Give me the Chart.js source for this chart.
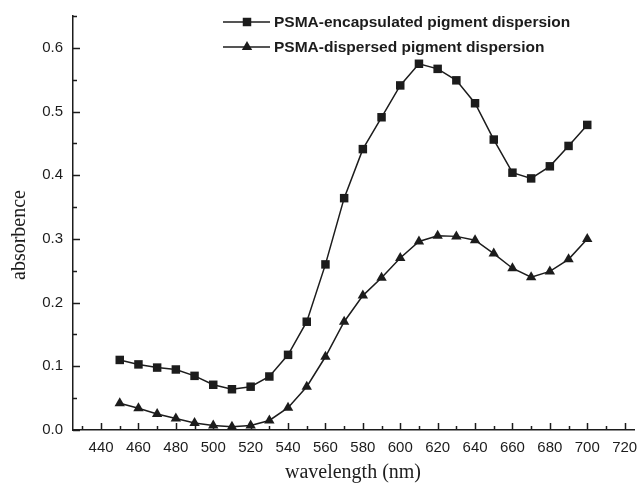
<!DOCTYPE html>
<html>
<head>
<meta charset="utf-8">
<script src="https://cdn.jsdelivr.net/npm/chart.js@4"></script>
<style>
  body { margin: 0; background: #fff; }
  #wrap { width: 640px; height: 487px; }
</style>
</head>
<body>
<div id="wrap"><canvas id="chart" width="640" height="487"></canvas></div>
<script>
// wavelength (nm)
const wavelengths = [450, 460, 470, 480, 490, 500, 510, 520, 530, 540, 550, 560, 570,
                     580, 590, 600, 610, 620, 630, 640, 650, 660, 670, 680, 690, 700];
const encapsulated = [0.110, 0.103, 0.098, 0.095, 0.085, 0.071, 0.064, 0.068, 0.084, 0.118, 0.170, 0.260, 0.364,
                      0.441, 0.491, 0.541, 0.575, 0.567, 0.549, 0.513, 0.456, 0.404, 0.395, 0.414, 0.446, 0.479];
const dispersed = [0.042, 0.034, 0.025, 0.018, 0.011, 0.007, 0.005, 0.007, 0.015, 0.035, 0.068, 0.115, 0.170,
                   0.211, 0.239, 0.270, 0.296, 0.305, 0.304, 0.298, 0.277, 0.254, 0.240, 0.249, 0.268, 0.300];
const seriesNames = ['PSMA-encapsulated pigment dispersion', 'PSMA-dispersed pigment dispersion'];

// tick positions (major ones get labels)
const xTicks = [430, 440, 450, 460, 470, 480, 490, 500, 510, 520, 530, 540, 550, 560, 570, 580,
                590, 600, 610, 620, 630, 640, 650, 660, 670, 680, 690, 700, 710, 720];
const xLabels = [440, 460, 480, 500, 520, 540, 560, 580, 600, 620, 640, 660, 680, 700, 720];
const yTicks = [0, 0.05, 0.1, 0.15, 0.2, 0.25, 0.3, 0.35, 0.4, 0.45, 0.5, 0.55, 0.6, 0.65];
const yLabels = [0, 0.1, 0.2, 0.3, 0.4, 0.5, 0.6];

const ink = '#1c1c1c';

function isLabel(list, v) {
    return list.some(l => Math.abs(l - v) < 1e-6);
}

function toPoints(ys) {
    return wavelengths.map((x, i) => ({ x: x, y: ys[i] }));
}

// inward tick marks, axis titles and the legend
const decorations = {
    id: 'decorations',
    afterDraw(chart) {
        const ctx = chart.ctx;
        const area = chart.chartArea;
        const xs = chart.scales.x, ys = chart.scales.y;
        ctx.save();
        ctx.strokeStyle = ink;
        ctx.lineWidth = 1.5;
        ctx.beginPath();
        xTicks.forEach(v => {
            const px = Math.round(xs.getPixelForValue(v)) + 0.5;
            const len = isLabel(xLabels, v) ? 7 : 4;
            ctx.moveTo(px, area.bottom);
            ctx.lineTo(px, area.bottom - len);
        });
        yTicks.forEach(v => {
            const py = Math.round(ys.getPixelForValue(v)) + 0.5;
            const len = isLabel(yLabels, v) ? 7 : 4;
            ctx.moveTo(area.left, py);
            ctx.lineTo(area.left + len, py);
        });
        ctx.stroke();

        // axis titles
        ctx.fillStyle = ink;
        ctx.font = '20px "Liberation Serif", "Times New Roman", serif';
        ctx.textAlign = 'center';
        ctx.textBaseline = 'middle';
        ctx.fillText('wavelength (nm)', 353, 473);
        ctx.translate(20, 235);
        ctx.rotate(-Math.PI / 2);
        ctx.fillText('absorbence', 0, 0);
        ctx.setTransform(1, 0, 0, 1, 0, 0);

        // legend
        const rows = [22, 47];
        ctx.font = 'bold 15.5px "Liberation Sans", Arial, sans-serif';
        ctx.textAlign = 'left';
        chart.data.datasets.forEach((ds, i) => {
            const y = rows[i];
            ctx.beginPath();
            ctx.lineWidth = 1.5;
            ctx.moveTo(223, y);
            ctx.lineTo(270, y);
            ctx.stroke();
            const r = 6;
            ctx.beginPath();
            if (ds.pointStyle === 'rect') {
                const s = Math.SQRT1_2 * r;
                ctx.rect(247 - s, y - s, 2 * s, 2 * s);
            } else {
                ctx.moveTo(247, y - r);
                ctx.lineTo(247 + r * Math.sin(Math.PI / 3), y + r / 2);
                ctx.lineTo(247 - r * Math.sin(Math.PI / 3), y + r / 2);
                ctx.closePath();
            }
            ctx.fill();
            ctx.fillText(ds.label, 274, y + 1);
        });
        ctx.restore();
    }
};

new Chart(document.getElementById('chart'), {
    type: 'line',
    data: {
        datasets: [
            {
                label: seriesNames[0],
                data: toPoints(encapsulated),
                pointStyle: 'rect'
            },
            {
                label: seriesNames[1],
                data: toPoints(dispersed),
                pointStyle: 'triangle'
            }
        ]
    },
    options: {
        responsive: false,
        animation: false,
        layout: { padding: { top: 16, right: 5, left: 0, bottom: 0 } },
        elements: {
            line: { borderColor: ink, borderWidth: 1.5, tension: 0 },
            point: { radius: 6, backgroundColor: ink, borderColor: ink, borderWidth: 0 }
        },
        plugins: {
            legend: { display: false },
            tooltip: { enabled: false }
        },
        scales: {
            x: {
                type: 'linear',
                min: 425,
                max: 725,
                afterBuildTicks: s => { s.ticks = xTicks.map(v => ({ value: v })); },
                afterFit: s => { s.height = 57; s.paddingLeft = 0; s.paddingRight = 0; },
                grid: { display: true, drawOnChartArea: false, drawTicks: false },
                border: { display: true, color: ink, width: 1.5 },
                ticks: {
                    autoSkip: false,
                    maxRotation: 0,
                    padding: 9,
                    color: ink,
                    font: { family: '"Liberation Sans", Arial, sans-serif', size: 15 },
                    callback: v => isLabel(xLabels, v) ? String(v) : ''
                }
            },
            y: {
                min: 0,
                max: 0.65,
                afterBuildTicks: s => { s.ticks = yTicks.map(v => ({ value: v })); },
                afterFit: s => { s.width = 73; s.paddingTop = 0; s.paddingBottom = 0; },
                grid: { display: true, drawOnChartArea: false, drawTicks: false },
                border: { display: true, color: ink, width: 1.5 },
                ticks: {
                    autoSkip: false,
                    padding: 10,
                    color: ink,
                    font: { family: '"Liberation Sans", Arial, sans-serif', size: 15 },
                    callback: v => isLabel(yLabels, v) ? v.toFixed(1) : ''
                }
            }
        }
    },
    plugins: [decorations]
});
</script>
</body>
</html>
